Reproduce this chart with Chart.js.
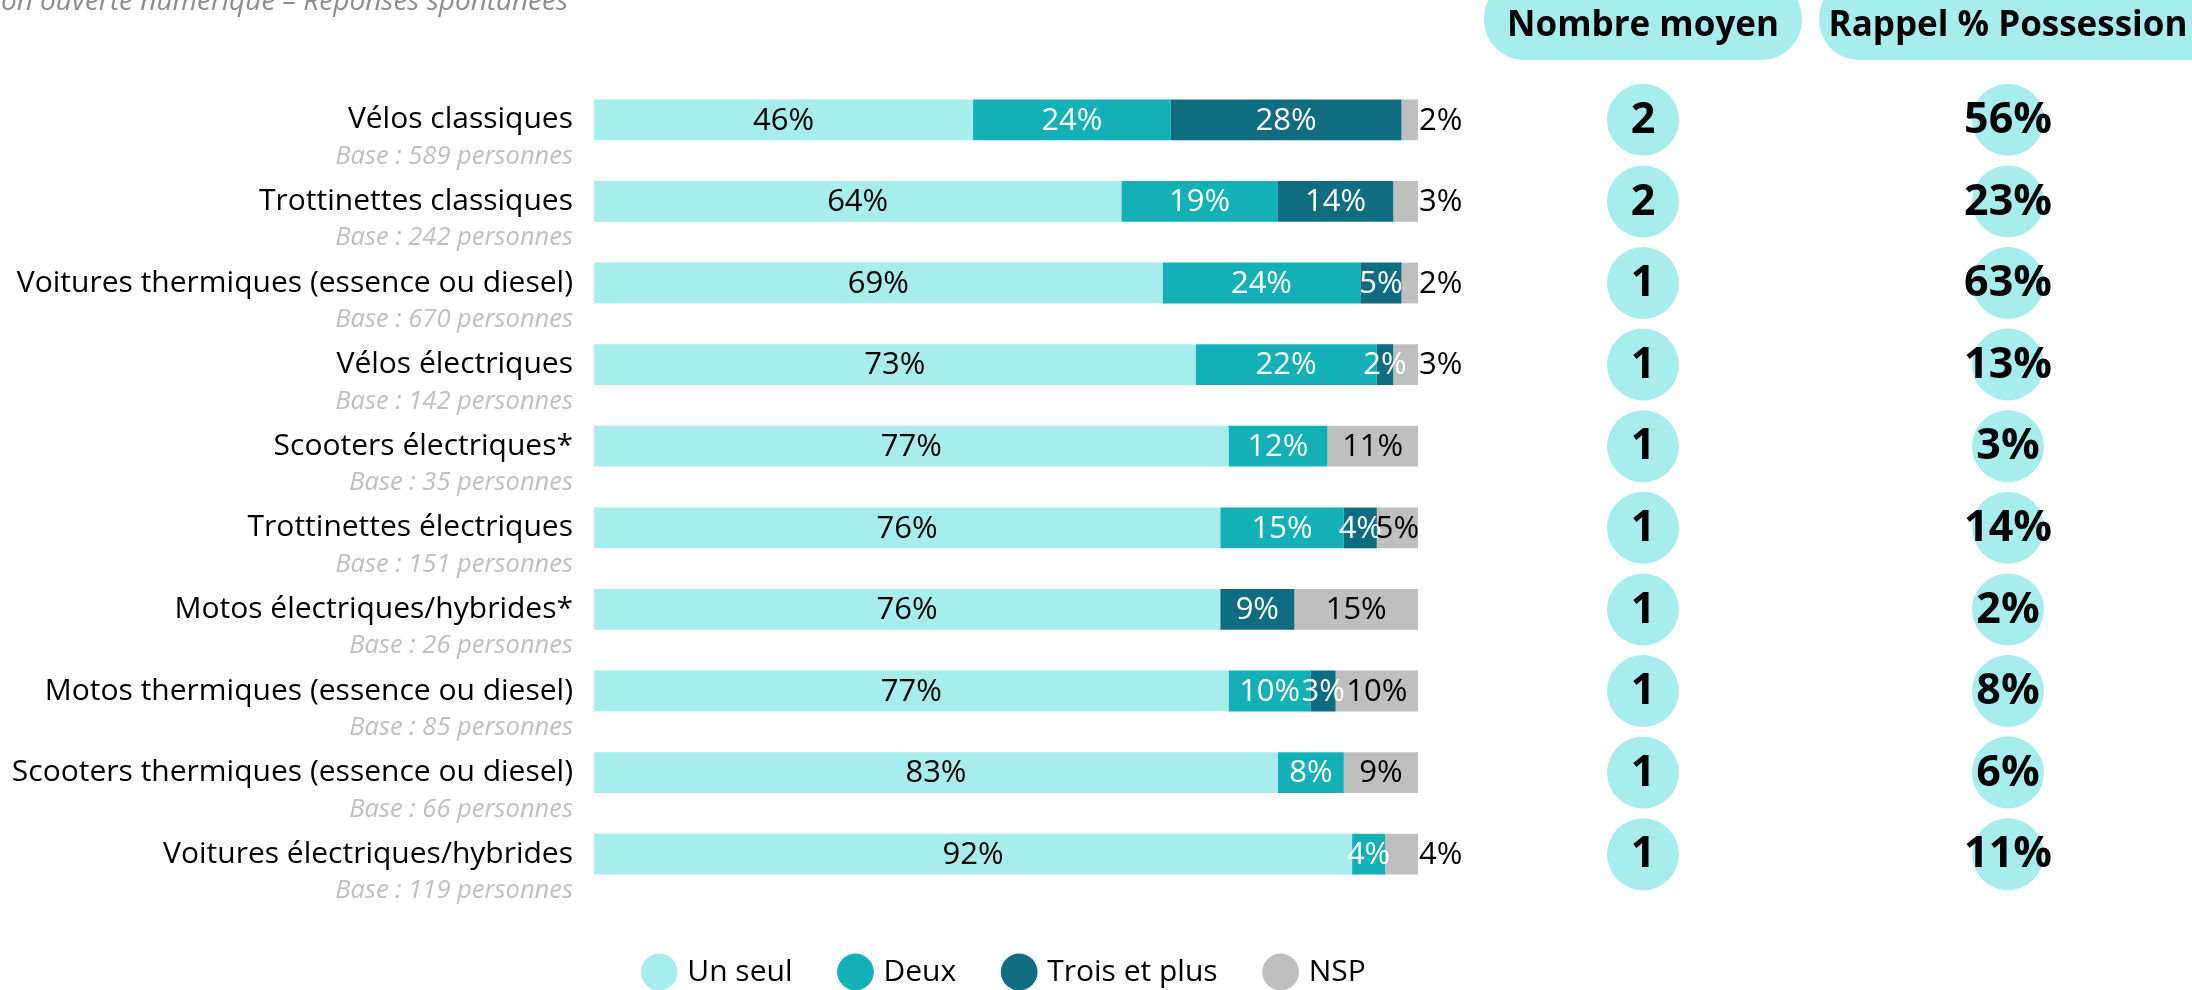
<!DOCTYPE html>
<html>
<head>
<meta charset="utf-8">
<script src="https://cdn.jsdelivr.net/npm/chart.js@4"></script>
<style>
  html, body { margin: 0; padding: 0; background: #fff; }
  #wrap { width: 2192px; height: 990px; position: relative; }
</style>
</head>
<body>
<div id="wrap"><canvas id="chart"></canvas></div>
<script>
var categories = [
    'Vélos classiques',
    'Trottinettes classiques',
    'Voitures thermiques (essence ou diesel)',
    'Vélos électriques',
    'Scooters électriques*',
    'Trottinettes électriques',
    'Motos électriques/hybrides*',
    'Motos thermiques (essence ou diesel)',
    'Scooters thermiques (essence ou diesel)',
    'Voitures électriques/hybrides'
];
var bases = [589, 242, 670, 142, 35, 151, 26, 85, 66, 119];

var seriesNames = ['Un seul', 'Deux', 'Trois et plus', 'NSP'];
var unSeul = [46, 64, 69, 73, 77, 76, 76, 77, 83, 92];
var deux   = [24, 19, 24, 22, 12, 15, 0, 10, 8, 4];
var trois  = [28, 14, 5, 2, 0, 4, 9, 3, 0, 0];
var nsp    = [2, 3, 2, 3, 11, 5, 15, 10, 9, 4];

var nombreMoyen = [2, 2, 1, 1, 1, 1, 1, 1, 1, 1];
var rappel = [56, 23, 63, 13, 3, 14, 2, 8, 6, 11];

var subtitle = 'Question ouverte numérique – Réponses spontanées';
var headers = ['Nombre moyen', 'Rappel % Possession'];

var COLORS = ['#a8eded', '#13b0b7', '#0f6c81', '#bfbfbf'];
var LABEL_COLORS = ['#000000', '#ffffff', '#ffffff', '#000000'];
var FONT = "'Open Sans', sans-serif";

Chart.defaults.font.family = FONT;
Chart.defaults.color = '#000';

// value labels on the bar segments
var segmentLabels = {
    id: 'segmentLabels',
    afterDatasetsDraw: function(chart) {
        var ctx = chart.ctx;
        ctx.save();
        ctx.font = '31px ' + FONT;
        ctx.textBaseline = 'middle';
        chart.data.datasets.forEach(function(ds, di) {
            var meta = chart.getDatasetMeta(di);
            meta.data.forEach(function(bar, i) {
                var v = ds.data[i];
                if (!v) return;
                var txt = v + '%';
                ctx.fillStyle = LABEL_COLORS[di];
                if (di === 3 && v < 5) {
                    ctx.textAlign = 'left';
                    ctx.fillText(txt, bar.x + 1, bar.y + 1);
                } else {
                    ctx.textAlign = 'center';
                    ctx.fillText(txt, (bar.x + bar.base) / 2, bar.y + 1);
                }
            });
        });
        ctx.restore();
    }
};

// subtitle, base counts, right-hand columns
var extras = {
    id: 'extras',
    afterDraw: function(chart) {
        var ctx = chart.ctx;
        var yScale = chart.scales.y;
        ctx.save();

        ctx.font = 'italic 28px ' + FONT;
        ctx.fillStyle = '#8c8c8c';
        ctx.textAlign = 'right';
        ctx.textBaseline = 'alphabetic';
        ctx.fillText(subtitle, 568, 10);

        ctx.font = 'italic 25.5px ' + FONT;
        ctx.fillStyle = '#bfbfbf';
        categories.forEach(function(c, i) {
            ctx.fillText('Base : ' + bases[i] + ' personnes', yScale.right - 21, yScale.getPixelForTick(i) + 44);
        });

        var colX = [1643, 2008];
        ctx.fillStyle = COLORS[0];
        ctx.beginPath();
        ctx.roundRect(1484, -22, 318, 82, 40);
        ctx.roundRect(1819, -22, 420, 82, 40);
        ctx.fill();
        ctx.fillStyle = '#000';
        ctx.textAlign = 'center';
        ctx.textBaseline = 'middle';
        ctx.font = 'bold 35px ' + FONT;
        ctx.fillText(headers[0], colX[0], 26);
        ctx.fillText(headers[1], 2008, 26);

        categories.forEach(function(c, i) {
            var y = yScale.getPixelForValue(i);
            ctx.fillStyle = COLORS[0];
            ctx.beginPath();
            ctx.arc(colX[0], y, 36, 0, Math.PI * 2);
            ctx.arc(colX[1], y, 36, 0, Math.PI * 2);
            ctx.fill();
            ctx.fillStyle = '#000';
            ctx.font = 'bold 43px ' + FONT;
            ctx.fillText(String(nombreMoyen[i]), colX[0], y + 1);
            ctx.fillText(rappel[i] + '%', colX[1], y + 1);
        });
        ctx.restore();
    }
};

new Chart(document.getElementById('chart'), {
    type: 'bar',
    data: {
        labels: categories,
        datasets: [unSeul, deux, trois, nsp].map(function(d, i) {
            return {
                label: seriesNames[i],
                data: d,
                backgroundColor: COLORS[i],
                borderWidth: 0,
                barPercentage: 0.5,
                categoryPercentage: 1
            };
        })
    },
    options: {
        indexAxis: 'y',
        responsive: true,
        maintainAspectRatio: false,
        animation: false,
        layout: { padding: { top: 79, right: 774, left: 0, bottom: -7 } },
        plugins: {
            legend: {
                position: 'bottom',
                fullSize: false,
                labels: {
                    usePointStyle: true,
                    pointStyle: 'circle',
                    boxWidth: 26,
                    boxHeight: 26,
                    padding: 50,
                    color: '#000',
                    font: { size: 30 }
                }
            },
            tooltip: { enabled: false }
        },
        scales: {
            x: {
                stacked: true,
                min: 0,
                max: 100,
                grid: { display: false },
                border: { display: false },
                ticks: { display: false },
                afterFit: function(scale) { scale.height = 12; }
            },
            y: {
                stacked: true,
                grid: { display: false, drawTicks: false },
                border: { display: false },
                ticks: { padding: 21, color: '#000', font: { size: 30 } },
                afterFit: function(scale) { scale.width = 594; }
            }
        }
    },
    plugins: [segmentLabels, extras]
});
</script>
</body>
</html>
